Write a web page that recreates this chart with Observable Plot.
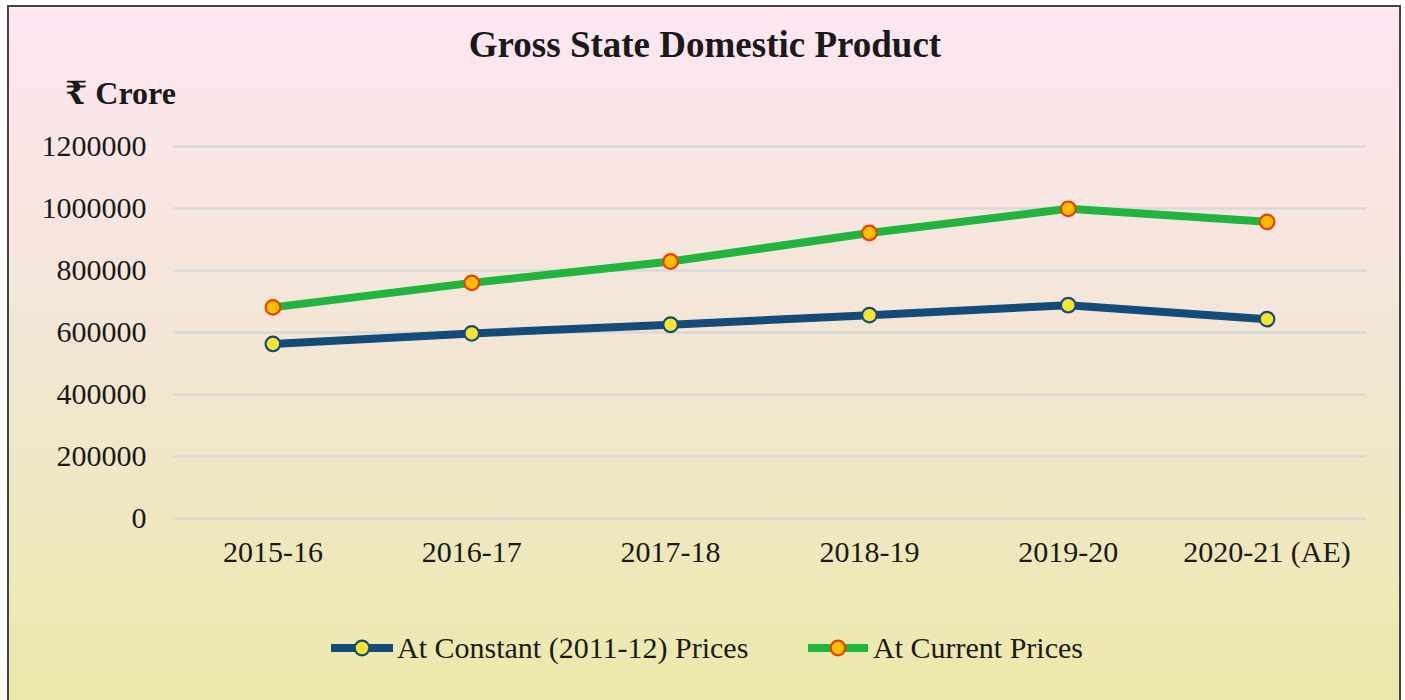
<!DOCTYPE html>
<html>
<head>
<meta charset="utf-8">
<script src="https://cdn.jsdelivr.net/npm/d3@7"></script>
<script src="https://cdn.jsdelivr.net/npm/@observablehq/plot@0.6"></script>
<style>
  html, body { margin: 0; padding: 0; width: 1405px; height: 700px; overflow: hidden; background: #ffffff; }
  #frame {
    position: absolute; left: 7px; top: 5px; width: 1394px; height: 720px;
    border: 2px solid #444; box-sizing: border-box;
    background: linear-gradient(to bottom, #fde6f2 0%, #f3e6d6 45%, #ebe9a8 100%);
  }
  #title { position: absolute; left: 0; top: 23px; width: 1410px; text-align: center; font-weight: bold; font-size: 37px; color: #1a1a1a; }
  #unit { position: absolute; left: 65px; top: 74px; font-weight: bold; font-size: 32px; color: #1a1a1a; }
  #chart { position: absolute; left: 0; top: 0; }
  #legend { position: absolute; left: 0; top: 630px; width: 1405px; font-size: 30px; color: #1a1a1a; }
  .item { position: absolute; top: 0; display: flex; align-items: center; height: 36px; }
  .item svg { margin-right: 4px; }
</style>
</head>
<body>
<div id="frame"></div>
<div id="chart"></div>
<div id="title" style="font-family:'Liberation Serif',serif;">Gross State Domestic Product</div>
<div id="unit" style="font-family:'Liberation Serif','DejaVu Serif',serif;">₹ Crore</div>
<div id="legend" style="font-family:'Liberation Serif',serif;"></div>
<script>
const years = ["2015-16", "2016-17", "2017-18", "2018-19", "2019-20", "2020-21 (AE)"];
const constantPrices = [563000, 597000, 625000, 656000, 688000, 643000];
const currentPrices = [681000, 760000, 829000, 921000, 999000, 957000];
const seriesNames = ["At Constant (2011-12) Prices", "At Current Prices"];
const yTicks = [0, 200000, 400000, 600000, 800000, 1000000, 1200000];

const lineColors = ["#154b78", "#21b53f"];
const dotFills = ["#f7e431", "#fbbf00"];
const dotStrokes = ["#154b78", "#e8400c"];

const rows = [];
years.forEach((y, i) => {
  rows.push({year: y, value: constantPrices[i], series: seriesNames[0]});
  rows.push({year: y, value: currentPrices[i], series: seriesNames[1]});
});

const chart = Plot.plot({
  width: 1405,
  height: 700,
  marginLeft: 173,
  marginRight: 39,
  marginTop: 146,
  marginBottom: 182,
  style: {background: "transparent", fontFamily: "'Liberation Serif', serif", fontSize: "30px", color: "#1a1a1a"},
  x: {type: "point", domain: years, padding: 0.5, round: false},
  y: {domain: [0, 1200000]},
  color: {domain: seriesNames, range: lineColors},
  marks: [
    Plot.gridY(yTicks, {stroke: "#d9d9d9", strokeOpacity: 1, strokeWidth: 2.5}),
    Plot.axisY(yTicks, {tickSize: 0, tickPadding: 27, tickFormat: d3.format("d"), label: null, fill: "#1a1a1a"}),
    Plot.axisX(years, {tickSize: 0, tickPadding: 22, label: null, fill: "#1a1a1a"}),
    Plot.line(rows, {x: "year", y: "value", stroke: "series", z: "series", strokeWidth: 8, strokeLinejoin: "round", strokeLinecap: "butt"}),
    Plot.dot(rows, {x: "year", y: "value", r: 7.3,
      fill: d => dotFills[seriesNames.indexOf(d.series)],
      stroke: d => dotStrokes[seriesNames.indexOf(d.series)],
      strokeWidth: 2.2})
  ]
});
document.getElementById("chart").appendChild(chart);

// legend
const legend = document.getElementById("legend");
const legendX = [331, 807];
seriesNames.forEach((name, i) => {
  const item = document.createElement("div");
  item.className = "item";
  item.style.left = legendX[i] + "px";
  const s = d3.create("svg").attr("width", 62).attr("height", 36);
  s.append("line").attr("x1", 1).attr("x2", 61).attr("y1", 18).attr("y2", 18)
    .attr("stroke", lineColors[i]).attr("stroke-width", 8).attr("stroke-linecap", i === 0 ? "round" : "butt");
  s.append("circle").attr("cx", 31).attr("cy", 18).attr("r", 7.3)
    .attr("fill", dotFills[i]).attr("stroke", dotStrokes[i]).attr("stroke-width", 2.2);
  item.appendChild(s.node());
  const t = document.createElement("span");
  t.textContent = name;
  item.appendChild(t);
  legend.appendChild(item);
});
</script>
</body>
</html>
